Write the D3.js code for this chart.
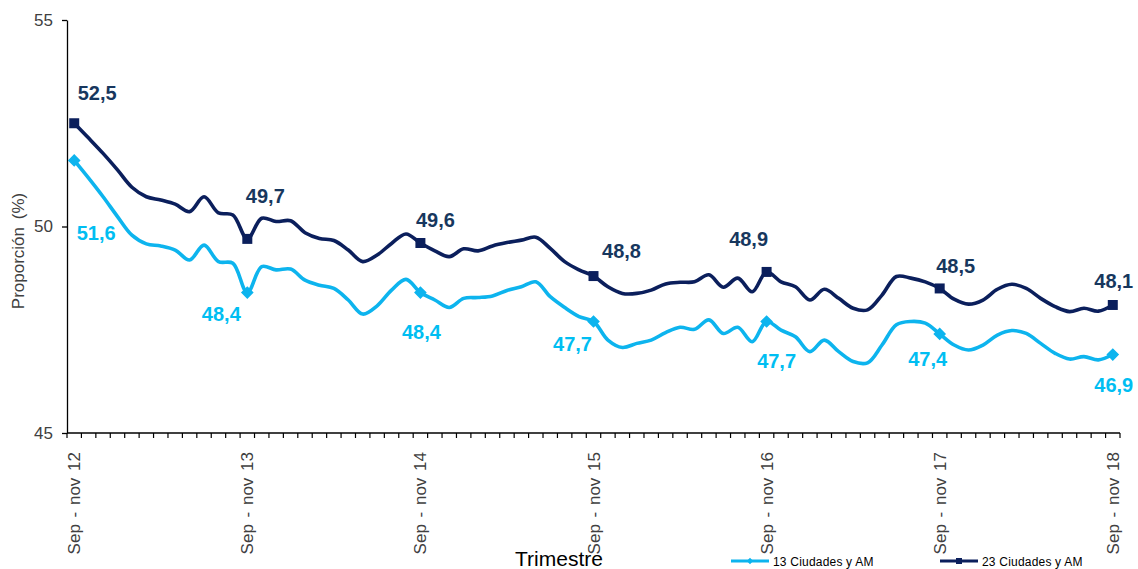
<!DOCTYPE html>
<html>
<head>
<meta charset="utf-8">
<script src="https://cdn.jsdelivr.net/npm/d3@7"></script>
<style>
  body { margin: 0; background: #fff; }
  text { font-family: "Liberation Sans", Arial, sans-serif; }
</style>
</head>
<body>
<div id="chart"></div>
<script>
// rolling quarters, one per month, Sep-nov 12 .. Sep-nov 18
const periods = d3.range(73);
const tickLabels = ["Sep - nov 12", "Sep - nov 13", "Sep - nov 14", "Sep - nov 15", "Sep - nov 16", "Sep - nov 17", "Sep - nov 18"];
const seriesNames = ["13 Ciudades y AM", "23  Ciudades y AM"];

const ciudades23 = [
  52.5, 52.14, 51.77, 51.37, 50.95, 50.72, 50.64, 50.54, 50.36, 50.72, 50.33, 50.28,
  49.7, 50.2, 50.12, 50.14, 49.85, 49.71, 49.66, 49.43, 49.15, 49.31, 49.59, 49.82,
  49.6, 49.41, 49.27, 49.46, 49.41, 49.53, 49.61, 49.67, 49.74, 49.47, 49.15, 48.95,
  48.8, 48.54, 48.38, 48.38, 48.46, 48.61, 48.65, 48.66, 48.83, 48.53, 48.75, 48.42,
  48.9, 48.66, 48.54, 48.22, 48.48, 48.26, 48.02, 47.98, 48.34, 48.79, 48.75, 48.66,
  48.5, 48.24, 48.12, 48.22, 48.48, 48.6, 48.5, 48.26, 48.06, 47.94, 48.02, 47.95,
  48.1
];
const ciudades13 = [
  51.6, 51.17, 50.72, 50.24, 49.79, 49.58, 49.53, 49.43, 49.19, 49.55, 49.15, 49.11,
  48.4, 49.03, 48.95, 48.97, 48.7, 48.58, 48.5, 48.22, 47.88, 48.08, 48.46, 48.72,
  48.4, 48.22, 48.04, 48.26, 48.28, 48.32, 48.45, 48.54, 48.66, 48.3, 48.04, 47.82,
  47.7, 47.25, 47.07, 47.17, 47.25, 47.43, 47.56, 47.51, 47.74, 47.41, 47.56, 47.21,
  47.7, 47.49, 47.33, 46.97, 47.25, 46.97, 46.73, 46.7, 47.13, 47.62, 47.7, 47.66,
  47.4, 47.13, 47.01, 47.13, 47.37, 47.48, 47.41, 47.17, 46.93, 46.79, 46.85, 46.77,
  46.9
];

// label offsets (px) from the yearly markers
const offsets23 = [[23, -23], [18, -36], [15, -16], [28, -18], [-18, -26], [16, -15], [1, -17]];
const offsets13 = [[22, 80], [-26, 28], [1, 46], [-21, 30], [10, 47], [-12, 32], [1, 37]];

const W = 1138, H = 569;
const plot = { left: 67, right: 1120, top: 20, bottom: 433 };
const dark = "#0B1F5C", darkText = "#17375E", light = "#0DB4EE", lightText = "#00BEF2";

const svg = d3.select("#chart").append("svg")
  .attr("width", W).attr("height", H);

const xBand = d3.scaleBand()
  .domain(periods)
  .range([plot.left, plot.right])
  .paddingInner(0).paddingOuter(0);
const x = i => xBand(i) + xBand.bandwidth() / 2;

const y = d3.scaleLinear()
  .domain([45, 55])
  .range([plot.bottom, plot.top]);

// y axis
const yAxis = svg.append("g")
  .attr("transform", `translate(${plot.left},0)`)
  .call(d3.axisLeft(y).tickValues([45, 50, 55]).tickSize(5).tickPadding(9).tickSizeOuter(0));
yAxis.select(".domain").attr("stroke", "#000").attr("stroke-width", 1.3);
yAxis.selectAll(".tick line").attr("stroke", "#000").attr("stroke-width", 1.3);
yAxis.selectAll(".tick text").attr("fill", "#404040").style("font-size", "17px")
  .style("font-family", "'Liberation Sans', Arial, sans-serif");

// x axis: line + monthly tick marks at band boundaries
const xg = svg.append("g");
xg.append("line")
  .attr("x1", plot.left).attr("x2", plot.right)
  .attr("y1", plot.bottom).attr("y2", plot.bottom)
  .attr("stroke", "#000").attr("stroke-width", 1.3);
const bounds = periods.map(i => xBand(i)).concat([plot.right]);
xg.selectAll(".mt")
  .data(bounds)
  .join("line")
  .attr("x1", d => d).attr("x2", d => d)
  .attr("y1", plot.bottom).attr("y2", plot.bottom + 5)
  .attr("stroke", "#000").attr("stroke-width", 1.2);

const yearIdx = tickLabels.map((t, k) => k * 12);
xg.selectAll(".xl")
  .data(tickLabels)
  .join("text")
  .attr("transform", (d, k) => `translate(${x(yearIdx[k]) + 6},${plot.bottom + 19}) rotate(-90)`)
  .attr("text-anchor", "end")
  .attr("fill", "#404040")
  .style("font-size", "17px")
  .style("word-spacing", "2px")
  .text(d => d);

// axis titles
svg.append("text")
  .attr("transform", "translate(24,251) rotate(-90)")
  .attr("text-anchor", "middle")
  .attr("fill", "#404040")
  .style("font-size", "17px")
  .style("word-spacing", "3px")
  .text("Proporción (%)");

svg.append("text")
  .attr("x", 559).attr("y", 566)
  .attr("text-anchor", "middle")
  .attr("fill", "#000")
  .style("font-size", "21px")
  .text("Trimestre");

// lines
const line = d3.line()
  .x((d, i) => x(i))
  .y(d => y(d))
  .curve(d3.curveCatmullRom.alpha(0.5));

svg.append("path").datum(ciudades13)
  .attr("d", line).attr("fill", "none")
  .attr("stroke", light).attr("stroke-width", 3.6).attr("stroke-linejoin", "round");
svg.append("path").datum(ciudades23)
  .attr("d", line).attr("fill", "none")
  .attr("stroke", dark).attr("stroke-width", 3.6).attr("stroke-linejoin", "round");

// yearly markers
const diamond = d3.symbol().type(d3.symbolSquare).size(56);
const square = d3.symbol().type(d3.symbolSquare).size(100);

svg.selectAll(".m13")
  .data(yearIdx)
  .join("path")
  .attr("transform", i => `translate(${x(i)},${y(ciudades13[i])}) rotate(45)`)
  .attr("d", diamond)
  .attr("fill", light).attr("stroke", light).attr("stroke-width", 1.5);

svg.selectAll(".m23")
  .data(yearIdx)
  .join("path")
  .attr("transform", i => `translate(${x(i)},${y(ciudades23[i])})`)
  .attr("d", square)
  .attr("fill", dark);

// data labels
const fmt = v => v.toFixed(1).replace(".", ",");
svg.selectAll(".l23")
  .data(yearIdx)
  .join("text")
  .attr("x", (i, k) => x(i) + offsets23[k][0])
  .attr("y", (i, k) => y(ciudades23[i]) + offsets23[k][1])
  .attr("text-anchor", "middle")
  .attr("fill", darkText)
  .style("font-size", "20px").style("font-weight", "bold")
  .text(i => fmt(ciudades23[i]));

svg.selectAll(".l13")
  .data(yearIdx)
  .join("text")
  .attr("x", (i, k) => x(i) + offsets13[k][0])
  .attr("y", (i, k) => y(ciudades13[i]) + offsets13[k][1])
  .attr("text-anchor", "middle")
  .attr("fill", lightText)
  .style("font-size", "20px").style("font-weight", "bold")
  .text(i => fmt(ciudades13[i]));

// legend
const legend = svg.append("g").attr("transform", "translate(731,561)");
const items = [
  { name: seriesNames[0], color: light, sym: d3.symbol().type(d3.symbolSquare).size(20), rot: 45, x: 0 },
  { name: seriesNames[1], color: dark, sym: d3.symbol().type(d3.symbolSquare).size(36), rot: 0, x: 209 }
];
items.forEach(it => {
  const g = legend.append("g").attr("transform", `translate(${it.x},0)`);
  g.append("line").attr("x1", 0).attr("x2", 38).attr("y1", 0).attr("y2", 0)
    .attr("stroke", it.color).attr("stroke-width", 3);
  g.append("path").attr("transform", `translate(19,0) rotate(${it.rot})`).attr("d", it.sym).attr("fill", it.color);
  g.append("text").attr("x", 42).attr("y", 4.5)
    .attr("fill", "#000").style("font-size", "12px").style("letter-spacing", "0.2px")
    .text(it.name);
});
</script>
</body>
</html>
